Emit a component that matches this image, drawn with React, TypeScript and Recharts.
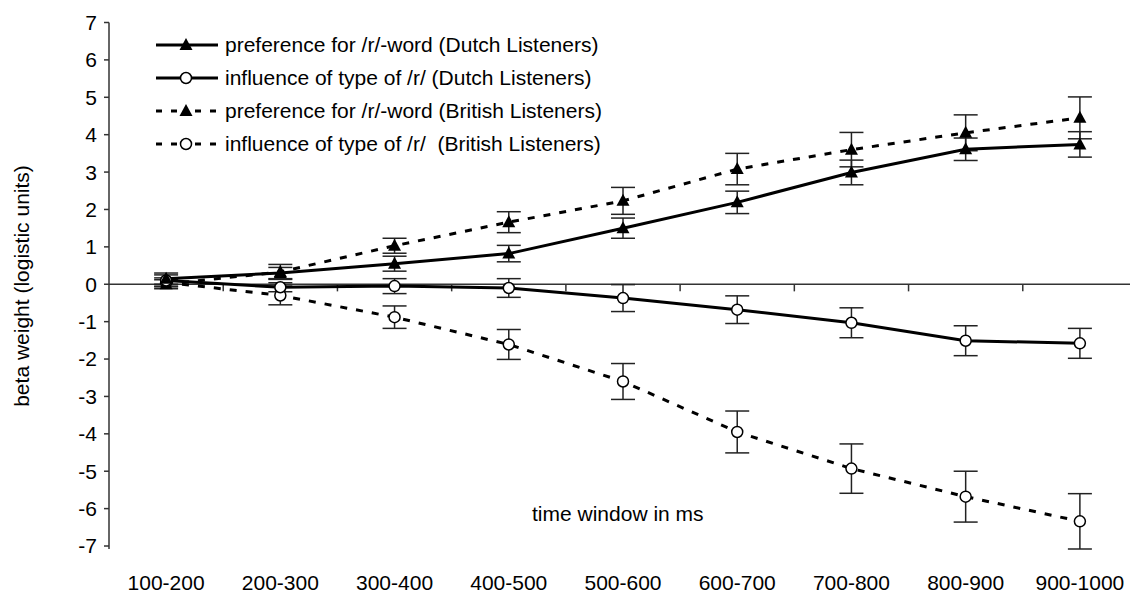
import { ErrorBar, Line, LineChart, ReferenceLine, XAxis, YAxis } from "recharts";

const windows = ["100-200", "200-300", "300-400", "400-500", "500-600", "600-700", "700-800", "800-900", "900-1000"];

const dutchPref = [0.15, 0.3, 0.55, 0.82, 1.5, 2.19, 2.99, 3.61, 3.74];
const dutchPrefErr = [0.15, 0.15, 0.2, 0.22, 0.27, 0.3, 0.33, 0.3, 0.34];
const dutchInfl = [0.1, -0.08, -0.05, -0.1, -0.37, -0.68, -1.03, -1.51, -1.58];
const dutchInflErr = [0.15, 0.12, 0.2, 0.25, 0.36, 0.37, 0.4, 0.4, 0.4];
const britPref = [0.0, 0.33, 1.03, 1.66, 2.23, 3.08, 3.6, 4.05, 4.45];
const britPrefErr = [0.12, 0.2, 0.2, 0.28, 0.36, 0.42, 0.46, 0.48, 0.56];
const britInfl = [0.05, -0.3, -0.88, -1.61, -2.6, -3.95, -4.93, -5.68, -6.34];
const britInflErr = [0.12, 0.25, 0.3, 0.4, 0.48, 0.56, 0.66, 0.68, 0.74];

const yTicks = [-7, -6, -5, -4, -3, -2, -1, 0, 1, 2, 3, 4, 5, 6, 7];

const legendItems = [
  { label: "preference for /r/-word (Dutch Listeners)", marker: "tri", dashed: false },
  { label: "influence of type of /r/ (Dutch Listeners)", marker: "circ", dashed: false },
  { label: "preference for /r/-word (British Listeners)", marker: "tri", dashed: true },
  { label: "influence of type of /r/  (British Listeners)", marker: "circ", dashed: true },
];

const data = windows.map((w, i) => ({
  pos: i + 1,
  w,
  dutchPref: dutchPref[i],
  dutchPrefErr: dutchPrefErr[i],
  dutchInfl: dutchInfl[i],
  dutchInflErr: dutchInflErr[i],
  britPref: britPref[i],
  britPrefErr: britPrefErr[i],
  britInfl: britInfl[i],
  britInflErr: britInflErr[i],
}));

const xTicks = windows.map((_, i) => i + 1);
const boundaries = windows.slice(1).map((_, i) => i + 1.5);

const FONT = "'Liberation Sans', Arial, sans-serif";

function triPath(cx: number, cy: number) {
  return `M${cx},${cy - 7} L${cx + 6.5},${cy + 5} L${cx - 6.5},${cy + 5} Z`;
}

const renderTri = (p: any) => {
  if (p.cx == null || p.cy == null) return <g key={`t-${p.index}`} />;
  return <path key={`t-${p.dataKey}-${p.index}`} d={triPath(p.cx, p.cy)} fill="#000" />;
};

const renderCirc = (p: any) => {
  if (p.cx == null || p.cy == null) return <g key={`c-${p.index}`} />;
  return <circle key={`c-${p.dataKey}-${p.index}`} cx={p.cx} cy={p.cy} r={5.5} fill="#fff" stroke="#000" strokeWidth={1.5} />;
};

function LegendBox() {
  return (
    <div style={{ position: "absolute", left: 155, top: 28.5, fontSize: 21, color: "#000" }}>
      {legendItems.map((it) => (
        <div key={it.label} style={{ display: "flex", alignItems: "center", height: 33, whiteSpace: "pre" }}>
          <svg width={64} height={20} style={{ marginRight: 6 }}>
            {it.dashed ? (
              <g stroke="#000" strokeWidth={3}>
                <line x1={1} y1={10} x2={7} y2={10} />
                <line x1={16} y1={10} x2={22} y2={10} />
                <line x1={40} y1={10} x2={46} y2={10} />
                <line x1={55} y1={10} x2={61} y2={10} />
              </g>
            ) : (
              <line x1={1} y1={10} x2={63} y2={10} stroke="#000" strokeWidth={3} />
            )}
            {it.marker === "tri" ? (
              <path d={triPath(31, 10)} fill="#000" />
            ) : (
              <circle cx={31} cy={10} r={5.5} fill="#fff" stroke="#000" strokeWidth={1.5} />
            )}
          </svg>
          <span>{it.label}</span>
        </div>
      ))}
    </div>
  );
}

export default function App() {
  return (
    <div
      style={{
        position: "absolute",
        left: 0,
        top: 0,
        width: 1130,
        height: 592,
        overflow: "hidden",
        background: "#fff",
        fontFamily: FONT,
      }}
    >
      <LineChart width={1140} height={592} data={data} margin={{ top: 22.5, right: 3, left: 0, bottom: 0 }}>
        <XAxis
          type="number"
          dataKey="pos"
          domain={[0.5, 9.5]}
          ticks={xTicks}
          tickFormatter={(v: number) => windows[v - 1]}
          axisLine={false}
          tickLine={false}
          tickSize={0}
          tickMargin={26}
          height={43}
          interval={0}
          tick={{ fontSize: 21, fill: "#000" }}
        />
        <YAxis
          domain={[-7, 7]}
          ticks={yTicks}
          interval={0}
          width={109}
          tickSize={5}
          tickMargin={7}
          axisLine={{ stroke: "#333", strokeWidth: 1.5 }}
          tickLine={{ stroke: "#333", strokeWidth: 1.5 }}
          tick={{ fontSize: 21, fill: "#000" }}
        />
        <ReferenceLine y={0} stroke="#333" strokeWidth={1.5} />
        {boundaries.map((b) => (
          <ReferenceLine
            key={b}
            segment={[
              { x: b, y: 0 },
              { x: b, y: -0.19 },
            ]}
            stroke="#333"
            strokeWidth={1.5}
            ifOverflow="visible"
          />
        ))}
        <Line
          dataKey="britInfl"
          stroke="#000"
          strokeWidth={3}
          strokeDasharray="7 9"
          dot={renderCirc}
          activeDot={false}
          isAnimationActive={false}
          legendType="none"
        >
          <ErrorBar dataKey="britInflErr" direction="y" width={12} stroke="#222" strokeWidth={1.5} />
        </Line>
        <Line
          dataKey="britPref"
          stroke="#000"
          strokeWidth={3}
          strokeDasharray="7 9"
          dot={renderTri}
          activeDot={false}
          isAnimationActive={false}
          legendType="none"
        >
          <ErrorBar dataKey="britPrefErr" direction="y" width={12} stroke="#222" strokeWidth={1.5} />
        </Line>
        <Line
          dataKey="dutchInfl"
          stroke="#000"
          strokeWidth={3}
          dot={renderCirc}
          activeDot={false}
          isAnimationActive={false}
          legendType="none"
        >
          <ErrorBar dataKey="dutchInflErr" direction="y" width={12} stroke="#222" strokeWidth={1.5} />
        </Line>
        <Line
          dataKey="dutchPref"
          stroke="#000"
          strokeWidth={3}
          dot={renderTri}
          activeDot={false}
          isAnimationActive={false}
          legendType="none"
        >
          <ErrorBar dataKey="dutchPrefErr" direction="y" width={12} stroke="#222" strokeWidth={1.5} />
        </Line>
      </LineChart>
      <LegendBox />
      <div
        style={{
          position: "absolute",
          left: 22,
          top: 286,
          transform: "translate(-50%, -50%) rotate(-90deg)",
          whiteSpace: "nowrap",
          fontSize: 21,
          color: "#000",
        }}
      >
        beta weight (logistic units)
      </div>
      <div
        style={{
          position: "absolute",
          left: 532,
          top: 502,
          whiteSpace: "nowrap",
          fontSize: 21,
          color: "#000",
        }}
      >
        time window in ms
      </div>
    </div>
  );
}
